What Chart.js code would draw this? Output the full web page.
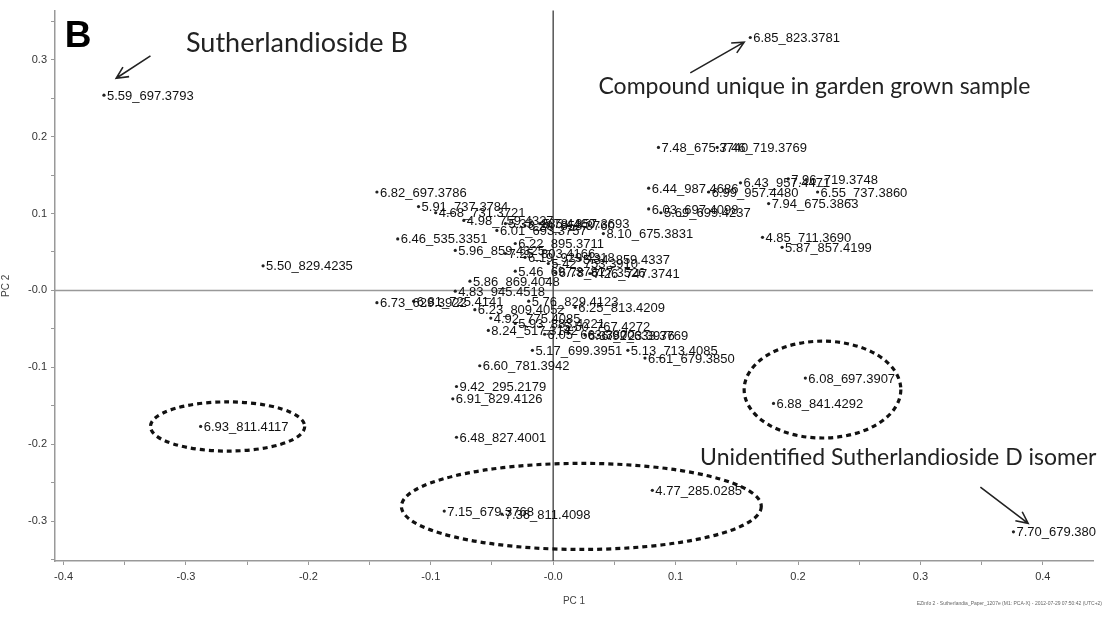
<!DOCTYPE html>
<html>
<head>
<meta charset="utf-8">
<script src="https://cdn.jsdelivr.net/npm/chart.js@4"></script>
<style>
  body { margin: 0; background: #fff; }
</style>
</head>
<body>
<canvas id="myChart" width="1108" height="617"></canvas>
<script>
// loadings: PC 1 / PC 2 per variable (retention time _ m/z)
const names = [
  '5.59_697.3793', '6.85_823.3781', '7.48_675.3740', '7.46_719.3769', '7.96_719.3748',
  '6.44_987.4686', '6.43_957.4471', '6.99_957.4480', '6.55_737.3860', '7.94_675.3863',
  '6.03_697.4098', '5.69_699.4237', '8.10_675.3831', '4.85_711.3690', '5.87_857.4199',
  '6.82_697.3786', '5.91_737.3784', '4.68_731.3721', '4.98_759.4327', '6.01_693.3757',
  '5.33_885.4460', '6.29_853.3760', '5.78_857.3693', '6.46_535.3351', '5.96_859.4325',
  '6.22_895.3711', '7.25_803.4166', '6.19_929.4318', '5.34_859.4337', '5.42_753.3910',
  '5.50_829.4235', '5.46_697.3781', '6.78_677.3526', '7.26_747.3741', '5.86_869.4048',
  '4.83_945.4518', '6.73_629.3922', '6.81_725.4141', '5.76_829.4123', '6.25_813.4209',
  '6.23_809.4052', '4.92_775.4085', '5.93_883.4221', '8.24_517.3142', '5.50_767.4272',
  '6.05_663.3800', '6.37_723.3976', '6.92_633.3769', '5.17_699.3951', '5.13_713.4085',
  '6.61_679.3850', '6.60_781.3942', '9.42_295.2179', '6.91_829.4126', '6.48_827.4001',
  '6.93_811.4117', '6.08_697.3907', '6.88_841.4292', '4.77_285.0285', '7.15_679.3768',
  '7.36_811.4098', '7.70_679.380'
];
const pc1 = [
  -0.367, 0.161, 0.086, 0.134, 0.192,
  0.078, 0.153, 0.127, 0.216, 0.176,
  0.078, 0.088, 0.041, 0.171, 0.187,
  -0.144, -0.110, -0.096, -0.073, -0.046,
  -0.039, -0.023, -0.011, -0.127, -0.080,
  -0.031, -0.039, -0.023, 0.022, -0.004,
  -0.237, -0.031, 0.002, 0.030, -0.068,
  -0.080, -0.144, -0.114, -0.020, 0.018,
  -0.064, -0.051, -0.031, -0.053, 0.006,
  -0.007, 0.026, 0.037, -0.017, 0.061,
  0.075, -0.060, -0.079, -0.082, -0.079,
  -0.288, 0.206, 0.180, 0.081, -0.089,
  -0.042, 0.376
];
const pc2 = [
  0.254, 0.329, 0.186, 0.186, 0.145,
  0.133, 0.140, 0.128, 0.128, 0.113,
  0.106, 0.101, 0.074, 0.069, 0.056,
  0.128, 0.109, 0.101, 0.091, 0.078,
  0.087, 0.084, 0.087, 0.067, 0.052,
  0.061, 0.048, 0.043, 0.040, 0.035,
  0.032, 0.025, 0.023, 0.022, 0.012,
  -0.001, -0.016, -0.014, -0.014, -0.022,
  -0.025, -0.036, -0.043, -0.052, -0.047,
  -0.057, -0.058, -0.058, -0.078, -0.078,
  -0.088, -0.098, -0.125, -0.141, -0.191,
  -0.177, -0.114, -0.147, -0.260, -0.287,
  -0.291, -0.314
];

// hand-drawn marks on the figure, in data units
const ellipses = [
  { cx: -0.266, cy: -0.177, rx: 0.063, ry: 0.032 },
  { cx: 0.023, cy: -0.281, rx: 0.147, ry: 0.056 },
  { cx: 0.220, cy: -0.129, rx: 0.064, ry: 0.063 }
];
const arrows = [
  { x0: -0.329, y0: 0.305, x1: -0.357, y1: 0.276 },
  { x0: 0.112, y0: 0.283, x1: 0.156, y1: 0.323 },
  { x0: 0.349, y0: -0.256, x1: 0.388, y1: -0.303 }
];
const notes = [
  { text: 'Sutherlandioside B', x: -0.300, y: 0.322, size: 27 },
  { text: 'Compound unique in garden grown sample', x: 0.037, y: 0.265, size: 23 },
  { text: 'Unidentified Sutherlandioside D isomer', x: 0.120, y: -0.217, size: 23 }
];

const decorations = {
  id: 'decorations',
  beforeDatasetsDraw(chart) {
    const { ctx, chartArea: a, scales: { x, y } } = chart;
    ctx.save();
    // zero lines
    ctx.lineWidth = 1.5;
    ctx.strokeStyle = '#999';
    ctx.beginPath();
    ctx.moveTo(a.left, y.getPixelForValue(0));
    ctx.lineTo(a.right, y.getPixelForValue(0));
    ctx.stroke();
    ctx.strokeStyle = '#555';
    ctx.beginPath();
    ctx.moveTo(x.getPixelForValue(0), a.top);
    ctx.lineTo(x.getPixelForValue(0), a.bottom);
    ctx.stroke();
    ctx.restore();
  },
  afterDatasetsDraw(chart) {
    const { ctx, scales: { x, y } } = chart;
    ctx.save();
    // point labels
    ctx.font = '13px "Liberation Sans", Arial, sans-serif';
    ctx.fillStyle = '#111';
    ctx.textBaseline = 'middle';
    ctx.textAlign = 'left';
    names.forEach((n, i) => {
      ctx.fillText(n, x.getPixelForValue(pc1[i]) + 3, y.getPixelForValue(pc2[i]) + 1);
    });

    // dashed ellipses
    ctx.strokeStyle = '#111';
    ctx.lineWidth = 3.2;
    ctx.setLineDash([5, 4]);
    ellipses.forEach(e => {
      const cx = x.getPixelForValue(e.cx), cy = y.getPixelForValue(e.cy);
      const rx = Math.abs(x.getPixelForValue(e.cx + e.rx) - cx);
      const ry = Math.abs(y.getPixelForValue(e.cy + e.ry) - cy);
      ctx.beginPath();
      ctx.ellipse(cx, cy, rx, ry, 0, 0, Math.PI * 2);
      ctx.stroke();
    });
    ctx.setLineDash([]);

    // arrows
    ctx.lineWidth = 1.6;
    ctx.strokeStyle = '#222';
    arrows.forEach(ar => {
      const x0 = x.getPixelForValue(ar.x0), y0 = y.getPixelForValue(ar.y0);
      const x1 = x.getPixelForValue(ar.x1), y1 = y.getPixelForValue(ar.y1);
      const ang = Math.atan2(y1 - y0, x1 - x0);
      ctx.beginPath();
      ctx.moveTo(x0, y0);
      ctx.lineTo(x1, y1);
      ctx.moveTo(x1 - 13 * Math.cos(ang - 0.45), y1 - 13 * Math.sin(ang - 0.45));
      ctx.lineTo(x1, y1);
      ctx.lineTo(x1 - 13 * Math.cos(ang + 0.45), y1 - 13 * Math.sin(ang + 0.45));
      ctx.stroke();
    });

    // annotation texts
    ctx.fillStyle = '#222';
    notes.forEach(n => {
      ctx.font = n.size + 'px Lato, "Open Sans", sans-serif';
      ctx.fillText(n.text, x.getPixelForValue(n.x), y.getPixelForValue(n.y));
    });

    // panel letter
    ctx.fillStyle = '#000';
    ctx.font = 'bold 37px "Liberation Sans", Arial, sans-serif';
    ctx.textBaseline = 'alphabetic';
    ctx.fillText('B', x.getPixelForValue(-0.399), y.getPixelForValue(0.317));

    // software footer
    ctx.font = '5px "Liberation Sans", Arial, sans-serif';
    ctx.fillStyle = '#666';
    ctx.textAlign = 'right';
    ctx.fillText('EZinfo 2 - Sutherlandia_Paper_1207e (M1: PCA-X) - 2012-07-29 07:50:42 (UTC+2)', chart.width - 6, chart.height - 12);
    ctx.restore();
  }
};

const tickLabel = v => {
  const k = Math.round(v * 20);
  if (k % 2 !== 0) return '';
  if (k === 0) return '-0.0';
  return (k / 20).toFixed(1);
};

const axisStyle = {
  type: 'linear',
  grid: { drawOnChartArea: false, drawTicks: true, tickLength: 4, color: '#999' },
  border: { display: true, color: '#999', width: 1.5 },
  ticks: {
    stepSize: 0.05,
    includeBounds: false,
    autoSkip: false,
    maxRotation: 0,
    color: '#333',
    font: { family: '"Liberation Sans", Arial, sans-serif', size: 11 },
    callback: tickLabel
  },
  title: {
    display: true,
    color: '#444',
    font: { family: '"Liberation Sans", Arial, sans-serif', size: 10 }
  }
};

const ctx = document.getElementById('myChart');

new Chart(ctx, {
  type: 'scatter',
  data: {
    datasets: [{
      data: pc1.map((v, i) => ({ x: v, y: pc2[i] })),
      pointRadius: 1.6,
      pointBorderWidth: 0,
      pointBackgroundColor: '#222'
    }]
  },
  options: {
    responsive: false,
    animation: false,
    layout: { padding: { top: 8, right: 15, left: 0, bottom: 0 } },
    plugins: {
      legend: { display: false },
      tooltip: { enabled: false }
    },
    scales: {
      x: {
        ...axisStyle,
        min: -0.407,
        max: 0.441,
        ticks: { ...axisStyle.ticks, padding: 5 },
        title: { ...axisStyle.title, text: 'PC 1', padding: { top: 0, bottom: 10 } },
        afterFit: s => { s.height = 56; }
      },
      y: {
        ...axisStyle,
        min: -0.352,
        max: 0.364,
        ticks: { ...axisStyle.ticks, padding: 4 },
        title: { ...axisStyle.title, text: 'PC 2', padding: { top: 0, bottom: 0 } },
        afterFit: s => { s.width = 55; }
      }
    }
  },
  plugins: [decorations]
});
</script>
</body>
</html>
